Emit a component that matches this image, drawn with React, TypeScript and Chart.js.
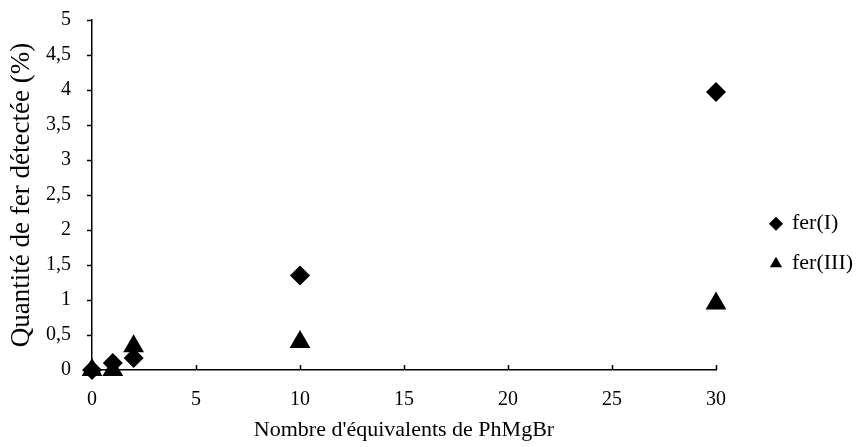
import React, { useEffect, useRef } from "react";
import { Chart, registerables } from "chart.js";

Chart.register(...registerables);

const equivalents: number[] = [0, 1, 2, 10, 30];
const ferI: number[] = [0, 0.1, 0.17, 1.35, 3.97];
const ferIII: number[] = [0, 0, 0.34, 0.4, 0.95];
const seriesNames: string[] = ["fer(I)", "fer(III)"];
const xTitle = "Nombre d'équivalents de PhMgBr";
const yTitle = "Quantité de fer détectée (%)";

const W = 859;
const H = 447;
const FONT = "'Liberation Serif', 'Times New Roman', serif";
const TICK_LEN = 5;

// Excel-style tick marks: y ticks outside (left), x ticks inside (upward)
const tickMarks = {
  id: "tickMarks",
  beforeDatasetsDraw(chart: any) {
    const xs = chart.scales.x;
    const ys = chart.scales.y;
    const { ctx, chartArea } = chart;
    ctx.save();
    ctx.strokeStyle = "#000";
    ctx.lineWidth = 1.5;
    xs.ticks.forEach((t: any) => {
      if (t.value === 0) return;
      const px = Math.round(xs.getPixelForValue(t.value)) + 0.5;
      ctx.beginPath();
      ctx.moveTo(px, chartArea.bottom);
      ctx.lineTo(px, chartArea.bottom - TICK_LEN);
      ctx.stroke();
    });
    ys.ticks.forEach((t: any) => {
      const py = Math.round(ys.getPixelForValue(t.value)) + 0.5;
      ctx.beginPath();
      ctx.moveTo(chartArea.left, py);
      ctx.lineTo(chartArea.left - TICK_LEN, py);
      ctx.stroke();
    });
    ctx.restore();
  },
};

export default function App() {
  const ref = useRef<HTMLCanvasElement | null>(null);
  useEffect(() => {
    document.body.style.margin = "0";
    const canvas = ref.current;
    if (!canvas) return;
    const toPts = (ys: number[]) => ys.map((y, i) => ({ x: equivalents[i], y }));
    const chart = new Chart(canvas, {
      type: "scatter",
      data: {
        datasets: [
          {
            label: seriesNames[0],
            data: toPts(ferI),
            pointStyle: "rectRot",
            pointRadius: 10,
            backgroundColor: "#000",
            borderColor: "#000",
            borderWidth: 0,
            clip: false as any,
          },
          {
            label: seriesNames[1],
            data: toPts(ferIII),
            pointStyle: "triangle",
            pointRadius: 12,
            backgroundColor: "#000",
            borderColor: "#000",
            borderWidth: 0,
            clip: false as any,
          },
        ],
      },
      options: {
        responsive: false,
        animation: false,
        devicePixelRatio: 1,
        events: [],
        layout: { padding: { top: 20, right: 0, bottom: 0, left: 0 } },
        plugins: {
          tooltip: { enabled: false },
          legend: {
            position: "right",
            maxWidth: 106,
            title: { display: true, text: " ", padding: { top: 6, bottom: 0 } },
            labels: {
              usePointStyle: true,
              boxWidth: 10,
              boxHeight: 10,
              padding: 18,
              color: "#000",
              font: { family: FONT, size: 22 },
            },
          },
        },
        scales: {
          x: {
            type: "linear",
            min: 0,
            max: 30,
            ticks: { stepSize: 5, color: "#000", font: { family: FONT, size: 20 }, padding: 18 },
            grid: { display: false, drawTicks: false },
            border: { display: true, color: "#000", width: 1.5 },
            title: {
              display: true,
              text: xTitle,
              color: "#000",
              font: { family: FONT, size: 22 },
              padding: { top: 0, bottom: 4 },
            },
            afterFit: (s: any) => {
              s.height = 77;
            },
          },
          y: {
            type: "linear",
            min: 0,
            max: 5,
            ticks: {
              stepSize: 0.5,
              color: "#000",
              font: { family: FONT, size: 20 },
              padding: 0,
              callback: (v: any) => String(v).replace(".", ","),
            },
            grid: {
              display: true,
              drawOnChartArea: false,
              drawTicks: true,
              tickLength: 21,
              color: "rgba(0,0,0,0)",
            },
            border: { display: true, color: "#000", width: 1.5 },
            title: {
              display: true,
              text: yTitle,
              color: "#000",
              font: { family: FONT, size: 27 },
              padding: { top: 6, bottom: 0 },
            },
            afterFit: (s: any) => {
              s.width = 92;
            },
          },
          gap: {
            type: "linear",
            position: "right",
            display: true,
            ticks: { display: false },
            grid: { display: false, drawTicks: false },
            border: { display: false },
            afterFit: (s: any) => {
              s.width = 37;
            },
          },
        },
      },
      plugins: [tickMarks],
    });
    return () => chart.destroy();
  }, []);
  return <canvas ref={ref} width={W} height={H} style={{ display: "block" }} />;
}
